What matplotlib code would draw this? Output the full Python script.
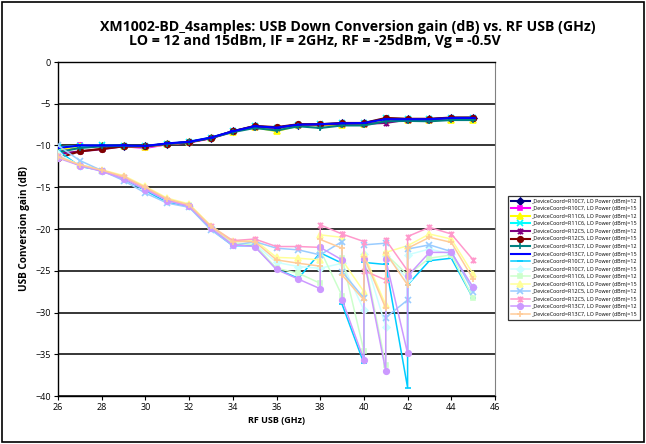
import matplotlib
matplotlib.use("Agg")
import matplotlib.pyplot as plt
from matplotlib.path import Path
from matplotlib.patches import Rectangle

# ---------------- data ----------------
freq_hi = [26, 27, 28, 29, 30, 31, 32, 33, 34, 35, 36, 37, 38, 39, 40, 41, 42, 43, 44, 45]
freq_lo = [26, 27, 28, 29, 30, 31, 32, 33, 34, 35, 36, 37,
           38, 38, 39, 39, 40, 40, 41, 41, 42, 42, 43, 44, 45]

devices = ["R10C7", "R10C7", "R11C6", "R11C6", "R12C5", "R12C5", "R13C7", "R13C7"]
lo_power = [12, 15, 12, 15, 12, 15, 12, 15]

# upper (dark) group
hi_R10C7_12 = [-10.5, -10.1, -10.05, -10.05, -10.1, -9.8, -9.6, -9.1, -8.3, -7.7, -7.9, -7.5, -7.5, -7.35, -7.35, -6.8, -6.85, -6.85, -6.7, -6.7]
hi_R10C7_15 = [-10.6, -10.0, -10.05, -10.1, -10.3, -9.85, -9.65, -9.15, -8.35, -7.75, -7.95, -7.55, -7.5, -7.4, -7.4, -6.9, -6.9, -6.9, -6.75, -6.75]
hi_R11C6_12 = [-10.5, -10.1, -10.1, -10.1, -10.15, -9.85, -9.6, -9.1, -8.35, -7.8, -8.3, -7.6, -7.6, -7.5, -7.4, -7.0, -6.95, -7.0, -6.9, -6.9]
hi_R11C6_15 = [-10.2, -10.05, -10.0, -10.05, -10.1, -9.8, -9.55, -9.05, -8.3, -7.7, -7.9, -7.5, -7.45, -7.35, -7.3, -6.75, -6.85, -6.85, -6.7, -6.65]
hi_R12C5_12 = [-11.0, -10.7, -10.45, -10.1, -10.1, -9.8, -9.6, -9.1, -8.3, -7.75, -7.9, -7.5, -7.5, -7.4, -7.4, -7.3, -6.9, -6.9, -6.7, -6.7]
hi_R12C5_15 = [-11.5, -10.7, -10.4, -10.1, -10.1, -9.8, -9.6, -9.1, -8.3, -7.65, -7.8, -7.45, -7.45, -7.3, -7.3, -6.7, -6.8, -6.8, -6.65, -6.65]
hi_R13C7_12 = [-10.8, -10.3, -10.1, -10.05, -10.05, -9.8, -9.6, -9.1, -8.4, -7.9, -8.2, -7.7, -7.9, -7.6, -7.6, -7.1, -7.05, -7.1, -6.95, -6.95]
hi_R13C7_15 = [-10.3, -10.0, -10.0, -10.0, -10.05, -9.75, -9.55, -9.05, -8.3, -7.7, -7.85, -7.5, -7.45, -7.35, -7.3, -6.85, -6.85, -6.85, -6.7, -6.7]

# lower (light) group
lo_R10C7_12 = [-10.6, -12.5, -13.0, -14.0, -15.4, -16.8, -17.3, -20.0, -22.0, -22.0, -24.8, -25.9,
               -22.85, -22.85, -24.1, -29.0, -36.1, -24.0, -24.25, -24.25, -39.0, -26.7, -23.8, -23.5, -28.3]
lo_R10C7_15 = [-11.0, -12.4, -13.0, -13.9, -15.2, -16.6, -17.2, -19.8, -21.7, -21.8, -24.0, -24.5,
               -24.7, -24.7, -24.1, -24.1, -29.7, -23.0, -31.7, -23.2, -26.0, -23.1, -22.4, -23.0, -27.0]
lo_R11C6_12 = [-11.2, -12.4, -13.0, -13.8, -15.1, -16.5, -17.1, -19.8, -21.7, -21.9, -24.7, -25.3,
               -26.5, -22.5, -28.0, -23.5, -34.6, -23.3, -36.3, -23.0, -25.5, -25.5, -23.5, -23.1, -28.3]
lo_R11C6_15 = [-11.3, -12.3, -12.9, -13.6, -14.9, -16.3, -17.0, -19.6, -21.4, -21.3, -23.4, -23.5,
               -23.7, -20.7, -21.0, -23.7, -27.5, -23.0, -29.1, -22.8, -22.0, -22.0, -20.6, -21.2, -25.4]
lo_R12C5_12 = [-10.0, -11.8, -13.0, -14.2, -15.7, -16.9, -17.4, -20.1, -22.0, -21.5, -22.3, -22.5,
               -23.1, -23.1, -21.5, -25.1, -28.3, -21.9, -21.7, -30.6, -28.5, -22.4, -21.9, -22.7, -27.5]
lo_R12C5_15 = [-11.3, -12.4, -13.0, -13.8, -15.1, -16.5, -17.2, -19.7, -21.4, -21.2, -22.1, -22.1,
               -22.2, -19.5, -20.6, -20.6, -21.5, -25.0, -26.1, -21.3, -25.0, -20.9, -19.8, -20.6, -23.7]
lo_R13C7_12 = [-11.5, -12.4, -13.1, -14.0, -15.3, -16.6, -17.3, -19.9, -21.9, -22.1, -24.85, -26.0,
               -27.15, -22.2, -23.7, -28.45, -35.65, -23.65, -37.0, -23.65, -34.9, -25.65, -22.8, -22.8, -27.0]
lo_R13C7_15 = [-11.4, -12.3, -12.95, -13.7, -15.0, -16.4, -17.1, -19.7, -21.5, -21.5, -23.7, -24.1,
               -24.45, -21.25, -22.3, -25.5, -28.5, -23.3, -29.5, -22.85, -26.7, -22.3, -21.0, -21.6, -26.0]

hi_series = [hi_R10C7_12, hi_R10C7_15, hi_R11C6_12, hi_R11C6_15,
             hi_R12C5_12, hi_R12C5_15, hi_R13C7_12, hi_R13C7_15]
lo_series = [lo_R10C7_12, lo_R10C7_15, lo_R11C6_12, lo_R11C6_15,
             lo_R12C5_12, lo_R12C5_15, lo_R13C7_12, lo_R13C7_15]

x_ticks = [26, 28, 30, 32, 34, 36, 38, 40, 42, 44, 46]
y_ticks = [0, -5, -10, -15, -20, -25, -30, -35, -40]

title_1 = "XM1002-BD_4samples: USB Down Conversion gain (dB) vs. RF USB (GHz)"
title_2 = "LO = 12 and 15dBm, IF = 2GHz, RF = -25dBm, Vg = -0.5V"
x_label = "RF USB (GHz)"
y_label = "USB Conversion gain (dB)"

# ---------------- styles ----------------
star = Path([(-1, -1), (1, 1), (-1, 1), (1, -1), (0, -1.2), (0, 1.2)],
            [Path.MOVETO, Path.LINETO, Path.MOVETO, Path.LINETO, Path.MOVETO, Path.LINETO])
markers = ["D", "s", "^", "x", star, "o", "+", "_"]
markers_lo = ["_", "D", "s", "^", "x", star, "o", "+"]
colors_hi = ["#000080", "#FF00FF", "#FFFF00", "#00FFFF", "#800080", "#800000", "#008080", "#0000FF"]
colors_lo = ["#00CCFF", "#CCFFFF", "#CCFFCC", "#FFFF99", "#99CCFF", "#FF99CC", "#CC99FF", "#FFCC99"]
msize = {"D": 3.5, "s": 3.5, "^": 4.5, "x": 4.5, "o": 4, "+": 5, "_": 5}

plt.rcParams['font.family'] = ['Open Sans', 'DejaVu Sans']

fig = plt.figure(figsize=(6.46, 4.44), dpi=100)
fig.patches.append(Rectangle((0.003, 0.004), 0.994, 0.992, transform=fig.transFigure,
                             fill=False, edgecolor="black", linewidth=1.2))

ax = fig.add_axes([58 / 646, 1 - 396 / 444, (495 - 58) / 646, (396 - 62) / 444])

handles = []
labels = []
for i, ys in enumerate(hi_series):
    m = markers[i]
    ms = msize.get(m, 4.5) if isinstance(m, str) else 4.5
    (h,) = ax.plot(freq_hi, ys, color=colors_hi[i], marker=m, markersize=ms,
                   markeredgewidth=1.2, linewidth=1.5, zorder=3)
    handles.append(h)
    labels.append(f"_DeviceCoord={devices[i]}, LO Power (dBm)={lo_power[i]}")
for i, ys in enumerate(lo_series):
    m = markers_lo[i]
    ms = msize.get(m, 4.5) if isinstance(m, str) else 4.5
    (h,) = ax.plot(freq_lo, ys, color=colors_lo[i], marker=m, markersize=ms,
                   markeredgewidth=1.2, linewidth=1.1, zorder=3)
    handles.append(h)
    labels.append(f"_DeviceCoord={devices[i]}, LO Power (dBm)={lo_power[i]}")

ax.set_xlim(26, 46)
ax.set_ylim(-40, 0)
ax.set_xticks(x_ticks)
ax.set_yticks(y_ticks)
ax.tick_params(labelsize=6.5, length=3, width=0.8, direction="out", pad=2)
ax.yaxis.grid(True, color="black", linewidth=1.1, zorder=1)
ax.set_axisbelow(True)
for s in ["left", "bottom", "top"]:
    ax.spines[s].set_color("black")
    ax.spines[s].set_linewidth(1.0)
ax.spines["right"].set_color("#808080")
ax.spines["right"].set_linewidth(0.8)

ax.set_ylabel(y_label, fontsize=7.2, fontweight="bold", labelpad=4)
ax.set_xlabel(x_label, fontsize=6.5, fontweight="bold", labelpad=3)

fig.text(348 / 646, 1 - 27 / 444, title_1, ha="center", va="center",
         fontsize=10.2, fontweight="bold")
fig.text(315 / 646, 1 - 41 / 444, title_2, ha="center", va="center",
         fontsize=10.2, fontweight="bold")

leg = fig.legend(handles, labels, loc="upper left",
                 bbox_to_anchor=(508 / 646, 1 - 196 / 444),
                 fontsize=3.9, frameon=True, fancybox=False, borderpad=0.5,
                 labelspacing=0.47, handlelength=3.6, handletextpad=0.2,
                 borderaxespad=0.0)
leg.get_frame().set_edgecolor("black")
leg.get_frame().set_linewidth(0.9)

fig.savefig("out.png", dpi=100)
